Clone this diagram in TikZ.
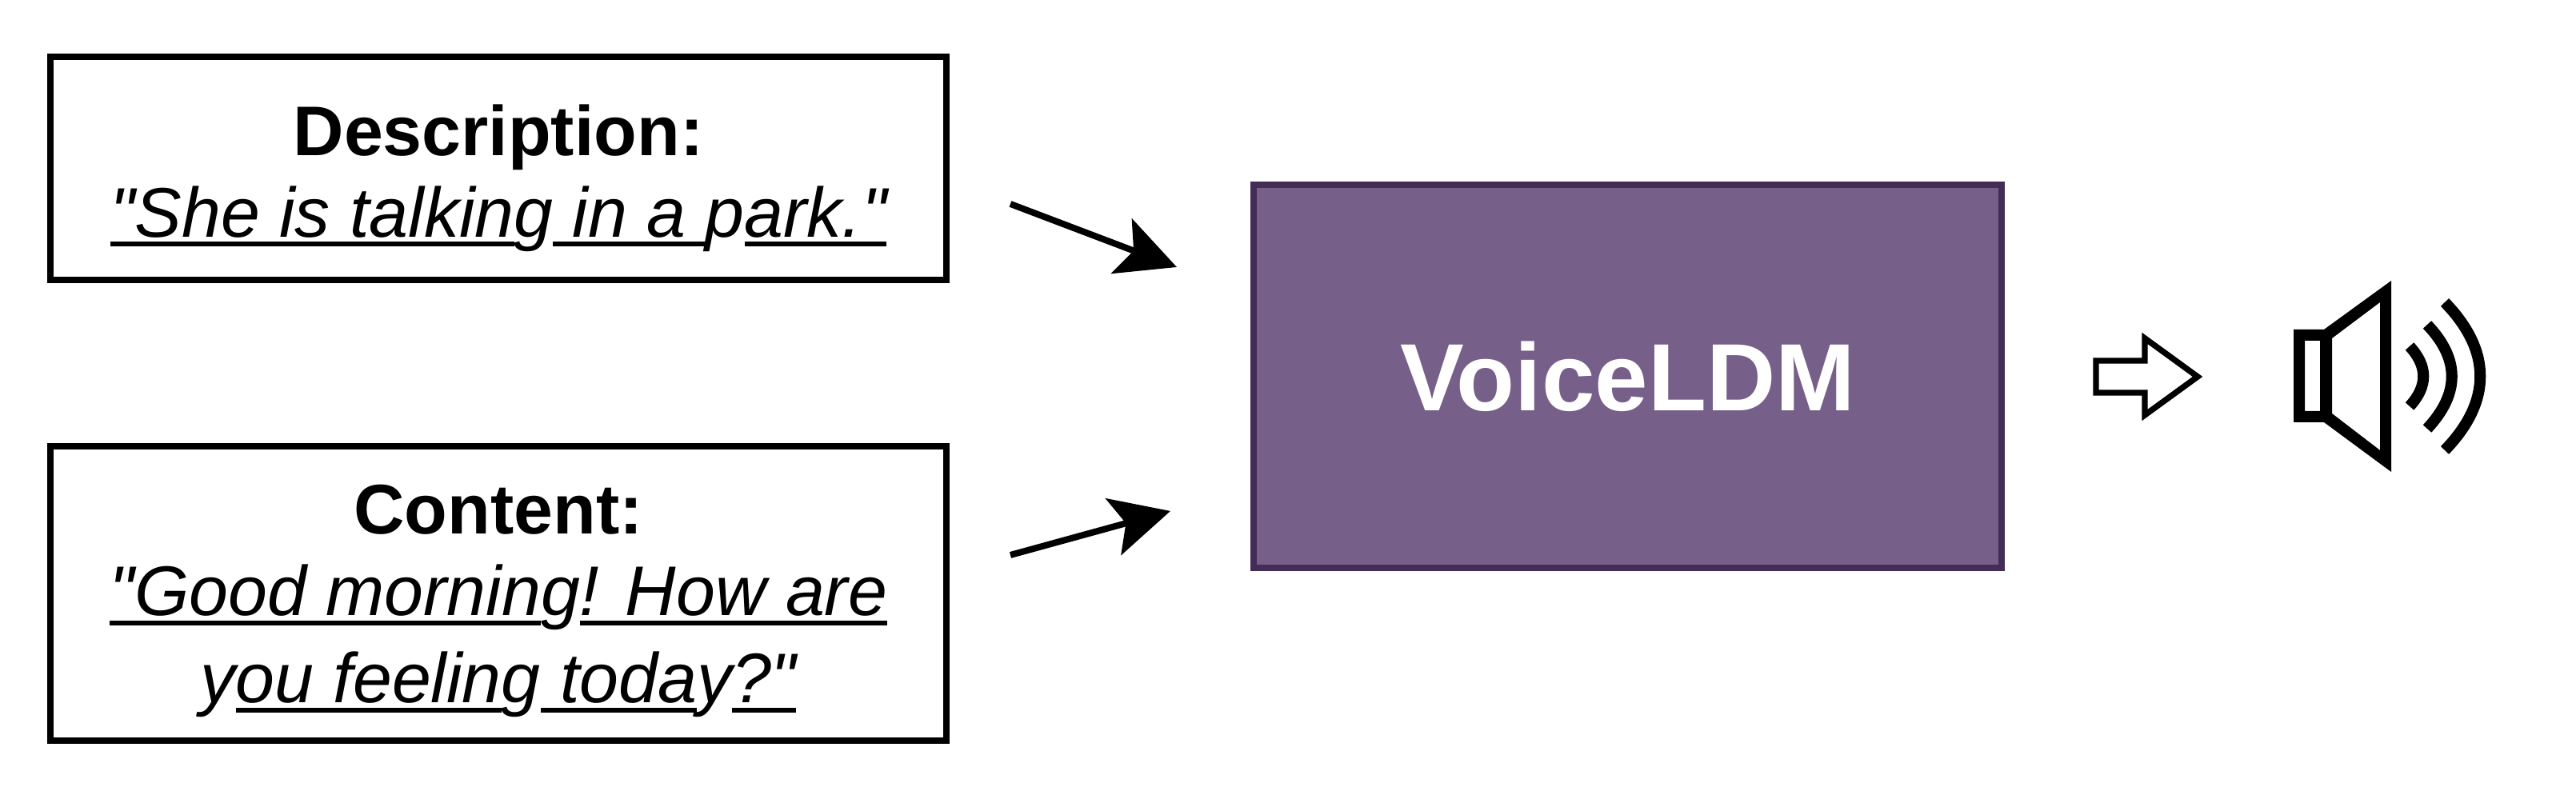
\documentclass[tikz,border=0pt]{standalone}
\usepackage{fontspec}
\setmainfont{Liberation Sans}[Ligatures=TeXOff]
\usepackage{xcolor}
\usetikzlibrary{arrows.meta}
\definecolor{FigureInk}{HTML}{000000}
\definecolor{ModelFill}{HTML}{76608A}
\definecolor{ModelEdge}{HTML}{432D57}
\newcommand{\PromptLabel}{\fontsize{25.0}{29.0}\selectfont}
\newcommand{\ModelLabel}{\fontsize{34.0}{38.0}\selectfont\bfseries}
\newsavebox{\ruledbox}
\newcommand{\ruled}[1]{\sbox{\ruledbox}{#1}\rlap{\rule[-3.4pt]{\wd\ruledbox}{1.7pt}}\usebox{\ruledbox}}
\tikzset{
  prompt box/.style={draw=FigureInk,fill=white,line width=2.28pt,outer sep=0pt,inner sep=0pt,
    minimum width=11.20cm,align=center,text=FigureInk,font=\PromptLabel},
  model box/.style={draw=ModelEdge,fill=ModelFill,line width=2.28pt,outer sep=0pt,
    minimum width=9.35cm,minimum height=4.79cm,text=white,font=\ModelLabel},
  feed arrow/.style={draw=FigureInk,line width=2.28pt,
    -{Stealth[length=21pt,width=20.8pt,inset=4.6pt]}},
  output arrow/.style={draw=FigureInk,fill=white,line width=2.1pt,miter limit=10},
  speaker wave/.style={draw=FigureInk,line width=4.0pt}
}
\begin{document}
\begin{tikzpicture}[x=1cm,y=1cm]
  \path[use as bounding box] (0,0) rectangle (32.20,9.94);

  \node[prompt box,minimum height=2.79cm] (description) at (6.23,7.835)
    {\rule{0pt}{25pt}\textbf{Description:}\\
     \itshape\ruled{"She is talkin}g\ruled{ in a }p\ruled{ark."}};
  \node[prompt box,minimum height=3.68cm] (content) at (6.23,2.52)
    {\rule{0pt}{23pt}\textbf{Content:}\\
     \itshape\ruled{"Good mornin}g\ruled{! How are}\\[2pt]
     \itshape y\ruled{ou feelin}g\ruled{ toda}y\ruled{?"}};
  \node[model box] (voiceldm) at (20.345,5.235) {VoiceLDM};

  \coordinate (description end) at (12.63,7.39);
  \coordinate (description tip) at (14.71,6.60);
  \coordinate (content end) at (12.63,3.00);
  \coordinate (content tip) at (14.63,3.55);
  \draw[feed arrow] (description end) -- (description tip);
  \draw[feed arrow] (content end) -- (content tip);

  \draw[output arrow] (26.20,5.43) -- (26.81,5.43) -- (26.81,5.71) -- (27.47,5.23)
    -- (26.81,4.75) -- (26.81,5.03) -- (26.20,5.03) -- cycle;

  % speaker body with the two openings cut out
  \fill[FigureInk,even odd rule]
    (28.67,5.82) -- (29.05,5.82) -- (29.89,6.43) -- (29.89,4.04)
    -- (29.05,4.66) -- (28.67,4.66) -- cycle
    (28.81,5.68) -- (29.00,5.68) -- (29.00,4.80) -- (28.81,4.80) -- cycle
    (29.15,5.71) -- (29.75,6.16) -- (29.75,4.31) -- (29.15,4.77) -- cycle;
  \draw[speaker wave] (30.12,5.61) .. controls (30.35,5.36) and (30.35,5.11) .. (30.12,4.86);
  \draw[speaker wave] (30.34,5.88) .. controls (30.75,5.45) and (30.75,5.02) .. (30.34,4.58);
  \draw[speaker wave] (30.56,6.16) .. controls (31.15,5.55) and (31.15,4.92) .. (30.56,4.31);
\end{tikzpicture}
\end{document}
